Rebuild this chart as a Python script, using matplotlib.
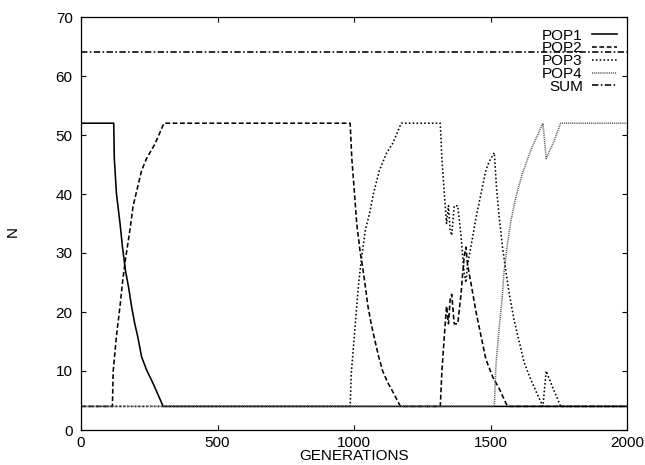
import matplotlib
matplotlib.use("Agg")
import matplotlib.pyplot as plt

# population sizes per generation
pop1_gen = [0, 120, 122, 130, 143, 152, 163, 175, 185, 197, 207, 222, 240, 264, 283, 301, 2000]
pop1_n = [52, 52, 46, 40, 35, 31, 27, 24, 21, 18, 16, 12.4, 10.2, 7.9, 5.9, 4, 4]

pop2_gen = [0, 115, 118, 130, 143, 152, 163, 173, 181, 191, 205, 222, 240, 271, 304,
            986, 992, 1002, 1010, 1023, 1032, 1041, 1051, 1063, 1075, 1090, 1105, 1124, 1142, 1170,
            1316, 1322, 1331, 1339, 1346, 1352, 1358, 1367, 1380, 1392, 1398, 1404, 1410, 1416,
            1428, 1447, 1465, 1483, 1508, 1532, 1562, 2000]
pop2_n = [4, 4, 10, 16, 21, 25, 29, 32, 34.5, 38, 40.7, 44, 46, 48.5, 52,
          52, 46, 40, 35, 30, 27.5, 24.5, 21, 18, 15.5, 12.5, 10, 8, 6.5, 4,
          4, 10, 16, 21, 18, 22, 23, 18, 18, 23, 26.5, 29.5, 31, 28,
          25, 20, 16, 12, 9, 7, 4, 4]

pop3_gen = [0, 986, 990, 1008, 1018, 1030, 1042, 1057, 1071, 1093, 1120, 1142, 1173,
            1316, 1322, 1331, 1339, 1346, 1352, 1358, 1367, 1380, 1392, 1398, 1404, 1410, 1416,
            1428, 1447, 1465, 1483, 1495, 1514, 1522, 1532, 1544, 1556, 1569, 1587, 1605, 1623,
            1648, 1672, 1692, 1704, 1727, 1757, 2000]
pop3_n = [4, 4, 9.6, 19.8, 25.4, 30, 34, 36.7, 40, 44, 47, 48.6, 52,
          52, 46, 40, 35, 38, 34, 33, 38, 38, 33, 29.5, 26.5, 25, 28,
          31, 36, 40, 44, 45.5, 47, 41, 36, 31, 27, 23, 18.5, 15, 11.5,
          8.5, 6, 4, 10, 7.3, 4, 4]

pop4_gen = [0, 1514, 1520, 1532, 1542, 1550, 1562, 1575, 1593, 1617, 1648, 1692, 1704, 1733, 1757, 2000]
pop4_n = [4, 4, 11, 17.5, 22, 27, 31.5, 35.5, 39.5, 43.5, 47.5, 52, 46, 49, 52, 52]

sum_gen = [0, 2000]
sum_n = [64, 64]

plt.rcParams['font.family'] = ['Liberation Sans', 'DejaVu Sans']
plt.rcParams['font.size'] = 11

fig = plt.figure(figsize=(6.45, 4.65), dpi=100)
ax = fig.add_axes([81 / 645, 1 - 430 / 465, 546 / 645, 413 / 465])

lw = 1.15
ax.plot(pop1_gen, pop1_n, color="black", linewidth=lw, label="POP1")
ax.plot(pop2_gen, pop2_n, color="black", linewidth=lw, dashes=(3.0, 1.6), label="POP2")
ax.plot(pop3_gen, pop3_n, color="black", linewidth=lw, dashes=(1.0, 1.4), label="POP3")
ax.plot(pop4_gen, pop4_n, color="#555555", linewidth=lw, dashes=(0.6, 0.6), label="POP4")
ax.plot(sum_gen, sum_n, color="black", linewidth=lw, dashes=(4.0, 1.5, 1.0, 1.5), label="SUM")

ax.set_xlim(0, 2000)
ax.set_ylim(0, 70)
ax.set_xticks([0, 500, 1000, 1500, 2000])
ax.set_yticks(range(0, 71, 10))
ax.tick_params(direction="in", length=3.6, width=0.8, top=True, right=True)
ax.tick_params(axis="x", pad=4.5)
ax.tick_params(axis="y", pad=6)
for s in ax.spines.values():
    s.set_linewidth(0.9)

ax.set_xlabel("GENERATIONS", labelpad=-1)
ax.set_ylabel("N")
ax.yaxis.set_label_coords(-0.112, 0.48)

leg = ax.legend(loc="upper right", bbox_to_anchor=(0.982, 0.972), frameon=False,
                markerfirst=False, handlelength=1.65, handletextpad=0.6,
                labelspacing=-0.08, borderpad=0, borderaxespad=0)

fig.savefig("out.png", dpi=100)
